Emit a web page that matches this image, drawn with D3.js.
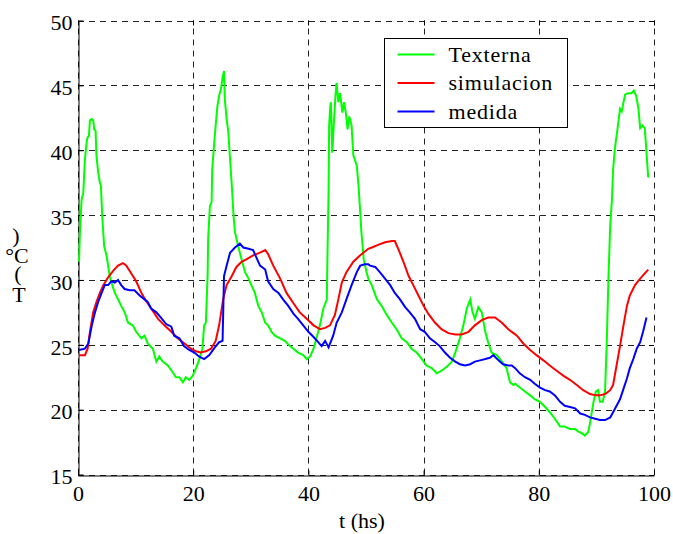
<!DOCTYPE html>
<meta charset="utf-8">
<body style="margin:0">
<svg width="673" height="534"></svg>
<script src="https://d3js.org/d3.v7.min.js"></script>
<script>

// tick labels
var xTicks = [0, 20, 40, 60, 80, 100],
    yTicks = [15, 20, 25, 30, 35, 40, 45, 50];

var legendNames = ["Texterna", "simulacion", "medida"];

// Texterna [t, T]
var texterna = [
  [0.17,31.4],[0.34,33.7],[0.63,36.2],[0.92,36.7],[1.2,39.3],[1.5,40.6],[1.67,41],[1.9,41.1],
  [2.07,42.3],[2.36,42.4],[2.64,42.3],[2.82,41.6],[3.05,41.5],[3.2,39.6],[3.5,38.3],[3.8,37.5],
  [3.97,37.3],[4.2,35],[4.54,32.6],[4.94,31.9],[5.23,31.1],[5.5,30.3],[5.8,29.8],[6.4,29],
  [6.95,28.5],[7.5,28],[8.1,27.5],[8.7,26.7],[9.5,26.5],[10.1,26],[11,25.5],[11.55,25.7],
  [12.1,25.1],[13,24.7],[13.6,23.7],[14.1,24.1],[14.7,23.7],[15.6,23.4],[16.4,22.9],[17,22.5],
  [17.6,22.5],[18.2,22.1],[18.7,22.5],[19.3,22.3],[19.9,22.6],[20.5,23.2],[21,23.8],[21.6,24.7],
  [21.9,26.5],[22.2,26.7],[22.5,30.3],[22.6,33.2],[22.9,35.7],[23.2,36],[23.3,38.5],[23.6,40.3],
  [23.9,41.9],[24.2,43.4],[24.5,44.2],[24.8,44.7],[25.1,45.6],[25.35,46.1],[25.5,43.9],[25.8,42.4],
  [26.1,41.4],[26.4,39.3],[26.7,37.3],[27,35],[27.25,33.7],[27.8,32.6],[28.4,31.6],[29,30.6],
  [29.6,30.1],[30.1,29.6],[30.7,29],[31.3,28],[31.9,27.5],[32.5,26.7],[33,26.5],[33.6,26],
  [34.2,25.7],[35.1,25.5],[35.9,25.3],[36.8,24.9],[37.4,24.7],[38.2,24.4],[39.1,24.2],[39.7,23.9],
  [40.3,24.1],[40.9,24.7],[41.4,25.5],[42,26.5],[42.6,27.8],[43.2,28.5],[43.3,31.6],[43.5,36.7],
  [43.6,41.9],[43.8,43.4],[43.9,43.7],[44.15,39.8],[44.4,41.9],[44.7,44.2],[44.9,45.2],[45.2,43.7],
  [45.5,44.4],[45.9,42.9],[46.2,43.7],[46.5,42.9],[46.8,41.6],[47.1,42.6],[47.5,41.9],[47.8,39.6],
  [48.4,38.8],[48.7,37.3],[49,35.2],[49.2,33.7],[49.6,31.6],[50.1,30.6],[50.4,30.1],[51,29.6],
  [51.9,28.5],[52.7,28],[53.6,27.3],[54.5,26.7],[55.3,26.2],[56.2,25.5],[57.1,25.2],[57.9,24.7],
  [58.8,24.4],[59.7,23.9],[60.5,23.4],[61.4,23.2],[62.3,22.8],[63.1,23],[64,23.3],[64.9,23.7],
  [65.5,24.4],[66.3,25.5],[66.9,26.5],[67.5,27.8],[68.1,28.5],[68.5,27.5],[68.9,27],[69.5,27.9],
  [70.1,27.5],[70.7,26],[71.2,25.2],[71.8,24.4],[72.7,24.2],[73.6,23.7],[74.4,23.2],[75,22.1],
  [75.6,21.9],[75.9,22],[76.7,21.7],[77.6,21.4],[78.5,21.1],[79.3,20.8],[80.2,20.6],[81.1,20.2],
  [81.9,19.8],[82.8,19.3],[83.7,18.7],[84.5,18.7],[85.4,18.5],[86.3,18.5],[86.9,18.3],[87.4,18.2],
  [88,18],[88.6,18.3],[88.9,19],[89.5,20.6],[89.9,21.4],[90.3,21.5],[90.6,20.6],[91.1,20.6],
  [91.5,21.4],[91.8,25.2],[92.1,30.3],[92.4,34.2],[92.7,36.2],[92.9,38.5],[93.2,40.1],[93.5,41.1],
  [93.8,42.1],[94.1,43.2],[94.4,43],[94.7,43.7],[95,44.3],[95.5,44.4],[96.1,44.4],[96.5,44.6],
  [96.9,44.2],[97.3,43.2],[97.6,41.7],[98,41.9],[98.4,41.7],[98.7,39.8],[99,37.9]
];

// simulacion [t, T]
var simulacion = [
  [0.17,24.2],[1.2,24.2],[1.67,24.7],[2.07,26],[2.64,27.5],[3.2,28.3],[3.8,29],[4.4,29.6],
  [5.23,30.2],[6.1,30.7],[6.95,31.1],[7.8,31.3],[8.4,31.1],[9.25,30.5],[10.1,29.9],[11,29],
  [11.8,28.4],[12.7,27.8],[13.9,27],[15,26.5],[16.2,26],[17.3,25.5],[18.5,25.1],[19.6,24.7],
  [20.5,24.5],[21.3,24.4],[22.2,24.5],[23.1,24.7],[23.9,25.3],[24.5,26.5],[25.2,28.5],[25.8,29.6],
  [26.7,30.3],[27.5,31],[28.4,31.4],[29.3,31.6],[30.4,31.9],[31.6,32.1],[32.5,32.3],[33,32],
  [33.9,31.1],[35.1,30.1],[36.2,29],[37.4,28.2],[38.5,27.5],[39.7,27],[40.9,26.5],[42,26.2],
  [42.9,26.3],[43.75,26.5],[44.6,27.3],[45.2,28.5],[45.8,29.8],[46.6,30.6],[47.8,31.4],[49,31.9],
  [50.4,32.4],[51,32.5],[52.1,32.7],[53.3,32.9],[54.5,33],[55,33],[55.6,32.4],[56.5,31.4],
  [57.4,30.3],[58.2,29.6],[59.1,28.8],[60,28],[60.8,27.4],[62,26.7],[63.1,26.2],[64.3,25.9],
  [65.5,25.8],[66.6,25.8],[67.8,26],[68.9,26.5],[70.1,26.9],[71.2,27.1],[72.4,27.1],[73.6,26.7],
  [74.7,26.2],[75.6,25.9],[76.2,25.7],[77.3,25.1],[78.5,24.6],[79.6,24.2],[80.8,23.8],[81.9,23.4],
  [83.1,23],[84.3,22.6],[85.4,22.3],[86.6,21.9],[87.7,21.5],[88.9,21.2],[89.9,21.1],[90.6,21.1],
  [91.5,21.2],[92.4,21.5],[92.9,21.9],[93.5,23.4],[94.1,24.9],[94.7,26.5],[95.3,28],[95.8,28.8],
  [96.7,29.6],[97.6,30.1],[98.4,30.5],[99,30.8]
];

// medida [t, T]
var medida = [
  [0.17,24.6],[1.2,24.7],[1.8,25.1],[2.4,26.5],[2.95,27.5],[3.5,28.3],[4.1,29],[4.65,29.6],
  [5.23,29.6],[5.8,29.9],[6.4,29.8],[6.95,30],[7.5,29.6],[8.1,29.3],[9,29.2],[9.8,29.2],
  [10.7,28.8],[11.55,28.5],[12.1,28.3],[12.7,27.8],[13.6,27.5],[14.4,27.1],[15.3,26.6],[16.2,26.4],
  [16.7,25.7],[17.6,25.5],[18.4,24.9],[19.3,24.6],[20.2,24.4],[21,24.1],[21.9,23.9],[22.8,24.2],
  [23.6,24.7],[24.5,25.2],[25.1,25.3],[25.35,30.3],[25.8,31.1],[26.4,32.1],[27.25,32.5],[28.1,32.8],
  [28.7,32.5],[29.6,32.4],[30.4,32.3],[31,31.7],[31.6,31.1],[32.5,30.8],[33,29.9],[33.9,29.3],
  [34.8,29],[35.6,28.5],[36.5,28],[37.4,27.4],[38.2,27],[39.1,26.5],[40,26],[40.9,25.6],
  [41.7,25.2],[42.3,24.9],[42.9,25.3],[43.5,24.8],[44.3,25.7],[44.9,26.7],[45.8,27.5],[46.6,28.5],
  [47.5,29.6],[48.4,30.6],[49,31.1],[49.8,31.2],[50.4,31.2],[50.7,31.1],[51.6,31],[52.4,30.6],
  [53.3,30.1],[54.2,29.6],[55,29],[55.9,28.5],[56.8,27.9],[57.6,27.5],[58.5,27],[59.4,26.2],
  [60.2,26],[61.1,25.5],[62,25.2],[62.8,24.9],[63.7,24.4],[64.6,24],[65.5,23.7],[66.3,23.5],
  [67.2,23.4],[68.1,23.5],[68.9,23.7],[69.8,23.8],[70.7,23.9],[71.5,24],[72.1,24.2],[73,23.8],
  [73.8,23.5],[74.7,23.4],[75.3,23.4],[75.9,23.2],[76.7,22.8],[77.6,22.5],[78.5,22.3],[79.3,22],
  [80.2,21.7],[81.1,21.5],[81.9,21.4],[82.8,21.1],[83.7,20.6],[84.5,20.3],[85.4,20.2],[86.3,20.1],
  [87.2,19.7],[88,19.6],[88.9,19.4],[89.8,19.3],[90.6,19.2],[91.5,19.2],[92.4,19.4],[92.9,19.8],
  [93.5,20.3],[94.1,20.8],[94.7,21.6],[95.3,22.4],[95.8,23.2],[96.4,23.9],[97,24.7],[97.6,25.2],
  [98.1,26],[98.7,27.1]
];

var svg = d3.select("svg"),
    margin = {left: 78, right: 19, top: 20.5, bottom: 59.5},
    width = +svg.attr("width"),
    height = +svg.attr("height");

var serif = "'Liberation Serif'";

var x = d3.scaleLinear().domain([0, 100]).range([margin.left, width - margin.right]);
var y = d3.scaleLinear().domain([15, 50]).range([height - margin.bottom, margin.top]);

// grid
var grid = svg.append("g")
    .attr("stroke", "#222").attr("stroke-width", 1).attr("stroke-dasharray", "6,5");
grid.selectAll(".gx").data(xTicks).enter().append("line")
    .attr("x1", function(d) { return Math.round(x(d)) + 0.5; })
    .attr("x2", function(d) { return Math.round(x(d)) + 0.5; })
    .attr("y1", y(15)).attr("y2", y(50));
grid.selectAll(".gy").data(yTicks).enter().append("line")
    .attr("y1", function(d) { return Math.round(y(d)) + 0.5; })
    .attr("y2", function(d) { return Math.round(y(d)) + 0.5; })
    .attr("x1", x(0)).attr("x2", x(100));

// axes: left & bottom solid, ticks inside
var xAxis = d3.axisBottom(x).tickValues(xTicks).tickSizeInner(-5).tickSizeOuter(0).tickPadding(10);
var yAxis = d3.axisLeft(y).tickValues(yTicks).tickSizeInner(-5).tickSizeOuter(0).tickPadding(6);

var gx = svg.append("g")
    .attr("transform", "translate(0," + (Math.round(y(15)) + 0.5) + ")")
    .call(xAxis);
var gy = svg.append("g")
    .attr("transform", "translate(" + (Math.round(x(0)) + 0.5) + ",0)")
    .call(yAxis);

[gx, gy].forEach(function(g) {
  g.attr("font-family", null).attr("font-size", null);
  g.select(".domain").attr("stroke", "#000").attr("stroke-width", 1);
  g.selectAll(".tick line").attr("stroke", "#000");
  g.selectAll("text").attr("fill", "#000")
      .style("font-family", serif).attr("font-size", 22);
});
gy.selectAll("text").attr("dy", "0.42em");
gx.selectAll("text").attr("dy", "0.71em");

// top / right inner ticks
svg.append("g").selectAll("line").data(xTicks).enter().append("line")
    .attr("x1", function(d) { return Math.round(x(d)) + 0.5; })
    .attr("x2", function(d) { return Math.round(x(d)) + 0.5; })
    .attr("y1", y(50)).attr("y2", y(50) + 5).attr("stroke", "#000");
svg.append("g").selectAll("line").data(yTicks).enter().append("line")
    .attr("y1", function(d) { return Math.round(y(d)) + 0.5; })
    .attr("y2", function(d) { return Math.round(y(d)) + 0.5; })
    .attr("x1", x(100)).attr("x2", x(100) - 5).attr("stroke", "#000");

// series
var line = d3.line()
    .x(function(d) { return x(d[0]); })
    .y(function(d) { return y(d[1]); });

var colors = ["#00ff00", "#ff0000", "#0000ff"];
svg.append("g").selectAll("path").data([texterna, simulacion, medida]).enter().append("path")
    .attr("fill", "none").attr("stroke-width", 2)
    .attr("stroke", function(d, i) { return colors[i]; })
    .attr("d", line);

// legend
var legend = svg.append("g").attr("transform", "translate(384.5,38.5)");
legend.append("rect").attr("width", 183).attr("height", 89)
    .attr("fill", "#fff").attr("stroke", "#000");
var item = legend.selectAll(".item").data(legendNames).enter().append("g")
    .attr("transform", function(d, i) { return "translate(0," + (16 + i * 28.5) + ")"; });
item.append("line").attr("x1", 13).attr("x2", 50)
    .attr("stroke", function(d, i) { return colors[i]; }).attr("stroke-width", 2);
item.append("text").attr("x", 64).attr("y", 7)
    .style("font-family", serif).attr("font-size", 22)
    .style("letter-spacing", "0.8px").text(function(d) { return d; });

// axis titles
svg.append("text").attr("x", 362).attr("y", 528).attr("text-anchor", "middle")
    .style("font-family", serif).attr("font-size", 22).text("t (hs)");

// y label, drawn as a stacked column like the reference
var yl = svg.append("text").attr("text-anchor", "middle")
    .style("font-family", serif).attr("font-size", 22);
yl.append("tspan").attr("x", 16).attr("y", 243).text(")");
yl.append("tspan").attr("x", 17).attr("y", 263).text("°C");
yl.append("tspan").attr("x", 18).attr("y", 281).text("(");
yl.append("tspan").attr("x", 19).attr("y", 302).text("T");

</script>
